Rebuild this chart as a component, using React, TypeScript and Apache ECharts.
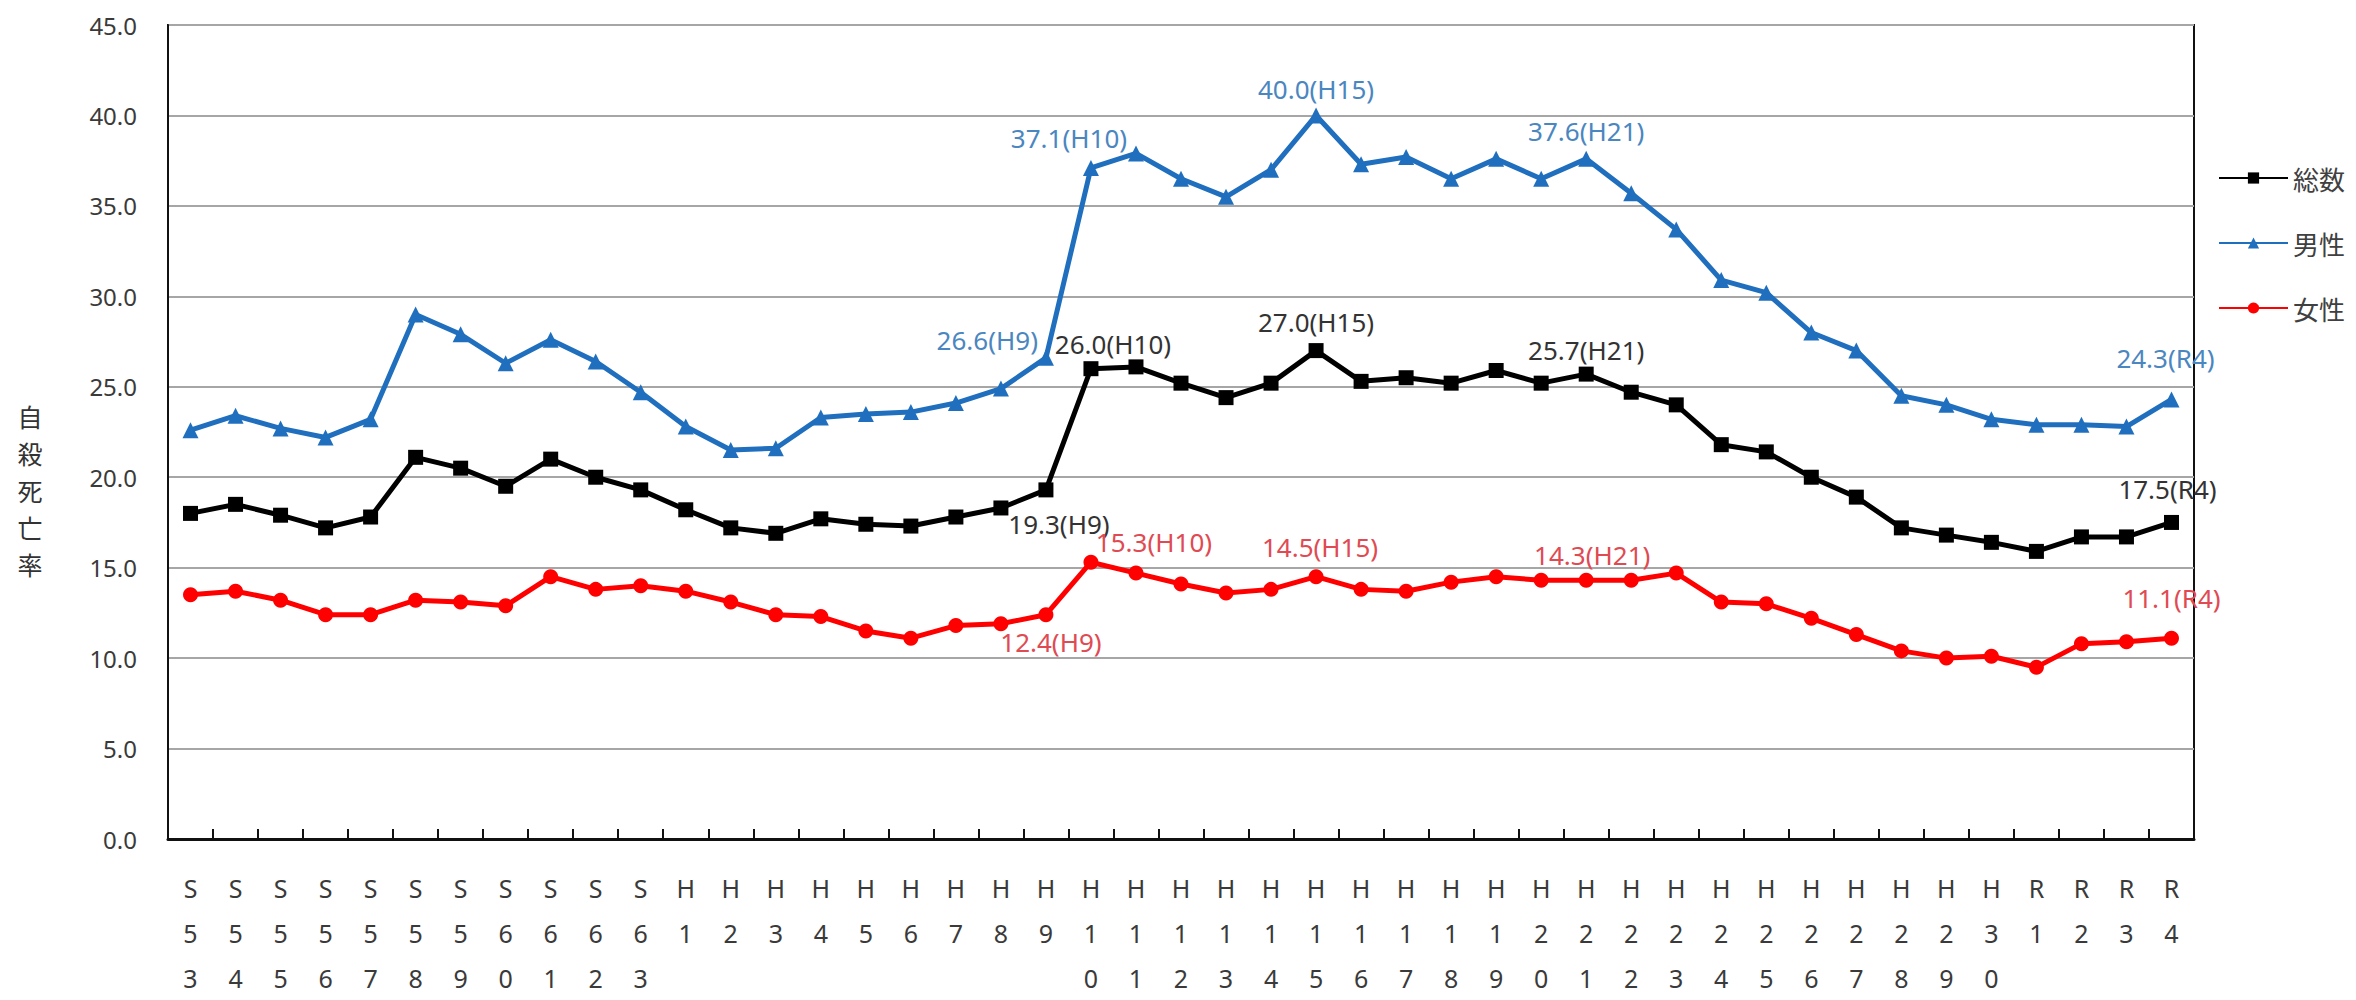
import React, { useEffect, useRef } from "react";
import * as echarts from "echarts";

const categories = [
  "S53", "S54", "S55", "S56", "S57", "S58", "S59", "S60", "S61", "S62", "S63",
  "H1", "H2", "H3", "H4", "H5", "H6", "H7", "H8", "H9", "H10",
  "H11", "H12", "H13", "H14", "H15", "H16", "H17", "H18", "H19", "H20",
  "H21", "H22", "H23", "H24", "H25", "H26", "H27", "H28", "H29", "H30",
  "R1", "R2", "R3", "R4",
];

const totalRates = [
  18.0, 18.5, 17.9, 17.2, 17.8, 21.1, 20.5, 19.5, 21.0, 20.0, 19.3,
  18.2, 17.2, 16.9, 17.7, 17.4, 17.3, 17.8, 18.3, 19.3, 26.0,
  26.1, 25.2, 24.4, 25.2, 27.0, 25.3, 25.5, 25.2, 25.9, 25.2,
  25.7, 24.7, 24.0, 21.8, 21.4, 20.0, 18.9, 17.2, 16.8, 16.4,
  15.9, 16.7, 16.7, 17.5,
];

const maleRates = [
  22.6, 23.4, 22.7, 22.2, 23.2, 29.0, 27.9, 26.3, 27.6, 26.4, 24.7,
  22.8, 21.5, 21.6, 23.3, 23.5, 23.6, 24.1, 24.9, 26.6, 37.1,
  37.9, 36.5, 35.5, 37.0, 40.0, 37.3, 37.7, 36.5, 37.6, 36.5,
  37.6, 35.7, 33.7, 30.9, 30.2, 28.0, 27.0, 24.5, 24.0, 23.2,
  22.9, 22.9, 22.8, 24.3,
];

const femaleRates = [
  13.5, 13.7, 13.2, 12.4, 12.4, 13.2, 13.1, 12.9, 14.5, 13.8, 14.0,
  13.7, 13.1, 12.4, 12.3, 11.5, 11.1, 11.8, 11.9, 12.4, 15.3,
  14.7, 14.1, 13.6, 13.8, 14.5, 13.8, 13.7, 14.2, 14.5, 14.3,
  14.3, 14.3, 14.7, 13.1, 13.0, 12.2, 11.3, 10.4, 10.0, 10.1,
  9.5, 10.8, 10.9, 11.1,
];

const seriesNames = ["総数", "男性", "女性"];
const yAxisTitle = "自殺死亡率";

// which points carry a value label (label placement kept separate from data)
const annotations: { series: string; category: string; position: string; offset: number[] }[] = [
  { series: "男性", category: "H9", position: "left", offset: [5, -18] },
  { series: "男性", category: "H10", position: "top", offset: [-22, -4] },
  { series: "男性", category: "H15", position: "top", offset: [0, 0] },
  { series: "男性", category: "H21", position: "top", offset: [0, -2] },
  { series: "男性", category: "R4", position: "top", offset: [-6, -15] },
  { series: "総数", category: "H9", position: "bottom", offset: [13, 9] },
  { series: "総数", category: "H10", position: "top", offset: [22, 1] },
  { series: "総数", category: "H15", position: "top", offset: [0, -3] },
  { series: "総数", category: "H21", position: "top", offset: [0, 1] },
  { series: "総数", category: "R4", position: "top", offset: [-4, -8] },
  { series: "女性", category: "H9", position: "bottom", offset: [5, 2] },
  { series: "女性", category: "H10", position: "top", offset: [63, 5] },
  { series: "女性", category: "H15", position: "top", offset: [4, -4] },
  { series: "女性", category: "H21", position: "top", offset: [6, 0] },
  { series: "女性", category: "R4", position: "top", offset: [0, -15] },
];

const FONT = "'Noto Sans', 'Noto Sans CJK JP', sans-serif";

function buildData(name: string, values: number[], labelColor: string) {
  return values.map((v, i) => {
    const ann = annotations.find((a) => a.series === name && a.category === categories[i]);
    if (!ann) return v;
    return {
      value: v,
      label: {
        show: true,
        position: ann.position,
        offset: ann.offset,
        distance: 5,
        color: labelColor,
        fontSize: 26,
        lineHeight: 26,
        fontFamily: FONT,
        formatter: () => `${v.toFixed(1)}(${categories[i]})`,
      },
    };
  });
}

export default function App() {
  const ref = useRef<HTMLDivElement>(null);

  useEffect(() => {
    if (!ref.current) return;
    const chart = echarts.init(ref.current, undefined, { renderer: "svg" });
    const option: any = {
      animation: false,
      backgroundColor: "#ffffff",
      textStyle: { fontFamily: FONT },
      grid: {
        left: 168,
        right: 162,
        top: 25,
        bottom: 152,
        show: true,
        borderColor: "#111",
        borderWidth: 2,
        backgroundColor: "transparent",
      },
      legend: {
        orient: "vertical",
        left: 2213,
        top: 160,
        itemWidth: 69,
        itemHeight: 14,
        itemGap: 39,
        data: seriesNames,
        textStyle: { fontSize: 26, lineHeight: 26, color: "#404040", fontFamily: "'Noto Sans CJK JP', sans-serif" },
      },
      graphic: [
        {
          type: "text",
          x: 30,
          y: 397,
          style: {
            text: yAxisTitle.split("").join("\n"),
            fontSize: 25,
            lineHeight: 37,
            fontFamily: "'Noto Sans CJK JP', sans-serif",
            fill: "#333",
            align: "center",
            verticalAlign: "top",
          },
        },
      ],
      xAxis: {
        type: "category",
        data: categories,
        boundaryGap: true,
        axisLine: { show: true, lineStyle: { color: "#111", width: 3 } },
        axisTick: { show: true, inside: true, length: 10, lineStyle: { color: "#111", width: 2 } },
        axisLabel: {
          interval: 0,
          margin: 26,
          fontSize: 25,
          lineHeight: 45,
          color: "#3a3a3a",
          formatter: (c: string) => c.split("").join("\n"),
        },
        splitLine: { show: false },
      },
      yAxis: {
        type: "value",
        min: 0,
        max: 45,
        interval: 5,
        axisLine: { show: true, lineStyle: { color: "#111", width: 2 } },
        axisTick: { show: false },
        axisLabel: {
          margin: 31,
          fontSize: 24,
          color: "#3a3a3a",
          formatter: (v: number) => v.toFixed(1),
        },
        splitLine: { show: true, lineStyle: { color: "#a6a6a6", width: 2 } },
      },
      series: [
        {
          name: seriesNames[0],
          type: "line",
          data: buildData(seriesNames[0], totalRates, "#333333"),
          symbol: "rect",
          symbolSize: 15,
          lineStyle: { color: "#000000", width: 5 },
          itemStyle: { color: "#000000" },
          z: 3,
        },
        {
          name: seriesNames[1],
          type: "line",
          data: buildData(seriesNames[1], maleRates, "#4a86c0"),
          symbol: "triangle",
          symbolSize: 16,
          lineStyle: { color: "#1f6fbe", width: 5 },
          itemStyle: { color: "#1f6fbe" },
          z: 3,
        },
        {
          name: seriesNames[2],
          type: "line",
          data: buildData(seriesNames[2], femaleRates, "#e04a52"),
          symbol: "circle",
          symbolSize: 15,
          lineStyle: { color: "#ff0000", width: 5 },
          itemStyle: { color: "#ff0000" },
          z: 3,
        },
      ],
    };
    chart.setOption(option);
    return () => chart.dispose();
  }, []);

  return (
    <div
      ref={ref}
      style={{ position: "fixed", left: 0, top: 0, width: "2356px", height: "1000px", background: "#fff" }}
    />
  );
}
